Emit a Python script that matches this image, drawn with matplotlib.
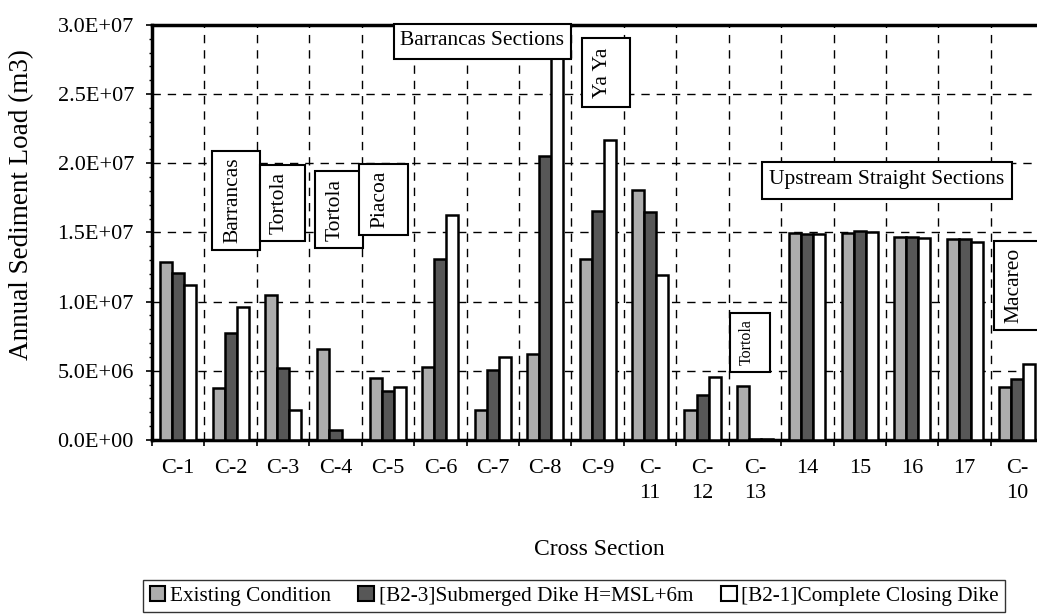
import matplotlib
matplotlib.use("Agg")
import matplotlib.pyplot as plt
import matplotlib.transforms as mtransforms
import numpy as np
from matplotlib.patches import Patch, Rectangle

plt.rcParams['font.family'] = ['Liberation Serif', 'DejaVu Serif']

categories = ["C-1", "C-2", "C-3", "C-4", "C-5", "C-6", "C-7", "C-8", "C-9",
              "C-\n11", "C-\n12", "C-\n13", "14", "15", "16", "17", "C-\n10"]
existing = [12.9e6, 3.74e6, 10.5e6, 6.6e6, 4.46e6, 5.26e6, 2.17e6, 6.2e6, 13.1e6,
            18.07e6, 2.17e6, 3.9e6, 14.94e6, 14.99e6, 14.7e6, 14.53e6, 3.86e6]
submerged = [12.05e6, 7.7e6, 5.2e6, 0.7e6, 3.55e6, 13.06e6, 5.06e6, 20.5e6, 16.55e6,
             16.46e6, 3.25e6, 0.1e6, 14.87e6, 15.11e6, 14.7e6, 14.5e6, 4.39e6]
complete = [11.2e6, 9.6e6, 2.2e6, 0.0, 3.86e6, 16.27e6, 6.02e6, 33.0e6, 21.7e6,
            11.9e6, 4.58e6, 0.1e6, 14.9e6, 15.0e6, 14.58e6, 14.29e6, 5.5e6]
series_names = ["Existing Condition", "[B2-3]Submerged Dike H=MSL+6m",
                "[B2-1]Complete Closing Dike"]
series_colors = ["#adadad", "#575757", "#ffffff"]

# annotations: (text, x, y, rotation, fontsize, box width px, box height px)
annotations = [
    ("Barrancas Sections", 5.80, 28.81e6, 0, 15.5, 177, 35),
    ("Ya Ya", 8.155, 26.57e6, 90, 15.5, 48, 69),
    ("Barrancas", 1.094, 17.31e6, 90, 15.5, 48, 99),
    ("Tortola", 1.981, 17.13e6, 90, 15.5, 45, 76),
    ("Tortola", 3.059, 16.66e6, 90, 15.5, 48, 77),
    ("Piacoa", 3.908, 17.39e6, 90, 15.5, 49, 71),
    ("Upstream Straight Sections", 13.517, 18.76e6, 0, 15.5, 250, 37),
    ("Tortola", 10.903, 7.05e6, 90, 11.5, 40, 59),
    ("Macareo", 15.989, 11.17e6, 90, 15.5, 45, 89),
]

fig = plt.figure(figsize=(10.37, 6.15), dpi=100)
ax = fig.add_axes([0.1466, 0.2846, 0.8595, 0.6748])

x = np.arange(len(categories))
w = 0.23
data = [existing, submerged, complete]
for k, (vals, col) in enumerate(zip(data, series_colors)):
    ax.bar(x + (k - 1) * w, vals, width=w, color=col, edgecolor='black',
           linewidth=1.8, zorder=3)

ax.set_xlim(-0.5, len(categories) - 0.5)
ax.set_ylim(0, 3.0e7)

# y axis
yt = np.arange(0, 3.0e7 + 1, 5e6)
ax.set_yticks(yt)
ax.set_yticklabels([f"{v:.1E}" for v in yt])
ax.set_yticks(np.arange(0, 3.0e7 + 1, 1e6), minor=True)
ax.tick_params(axis='y', which='major', direction='out', length=4, width=1.2,
               labelsize=16, pad=9)
ax.tick_params(axis='y', which='minor', direction='out', length=2.5, width=1)

# x axis: labels at centers, ticks at boundaries
ax.set_xticks(x)
ax.set_xticklabels(categories, linespacing=1.4)
ax.set_xticks(np.arange(-0.5, len(categories), 1.0), minor=True)
ax.tick_params(axis='x', which='major', length=0, labelsize=16, pad=14)
ax.tick_params(axis='x', which='minor', direction='out', length=4, width=1.2)

ax.grid(False)
for yv in yt[1:]:
    ax.axhline(yv, color='black', linestyle=(0, (6, 5)), linewidth=1, zorder=1)
for xv in np.arange(0.5, len(categories) - 0.5, 1.0):
    ax.axvline(xv, color='black', linestyle=(0, (6, 5)), linewidth=1, zorder=1)

for s in ax.spines.values():
    s.set_linewidth(2.5)

ident = mtransforms.IdentityTransform()
for txt, tx, ty, rot, fs, bw, bh in annotations:
    cx, cy = ax.transData.transform((tx, ty))
    fig.add_artist(Rectangle((cx - bw / 2, cy - bh / 2), bw, bh, transform=ident,
                             facecolor='white', edgecolor='black', linewidth=1.5,
                             zorder=5))
    dx = -3 if rot else 0
    dy = 1 if not rot else 0
    fig.text(cx + dx, cy + dy, txt, rotation=rot, fontsize=fs, ha='center',
             va='center', transform=ident, zorder=6)

fig.text(0.0212, 0.667, "Annual Sediment Load (m3)", rotation=90,
         ha='center', va='center', fontsize=19.5)
fig.text(0.5776, 0.106, "Cross Section", ha='center', va='center', fontsize=17)

handles = [Patch(facecolor=c, edgecolor='black', linewidth=1.5) for c in series_colors]
leg = fig.legend(handles, series_names, loc='center', bbox_to_anchor=(0.5535, 0.031),
                 ncol=3, fontsize=15.3, frameon=True, fancybox=False,
                 edgecolor='black', handlelength=0.75, handleheight=0.7,
                 handletextpad=0.2, columnspacing=1.3, borderpad=0.3,
                 borderaxespad=0)
leg.get_frame().set_linewidth(1.0)

fig.savefig("out.png", dpi=100)
